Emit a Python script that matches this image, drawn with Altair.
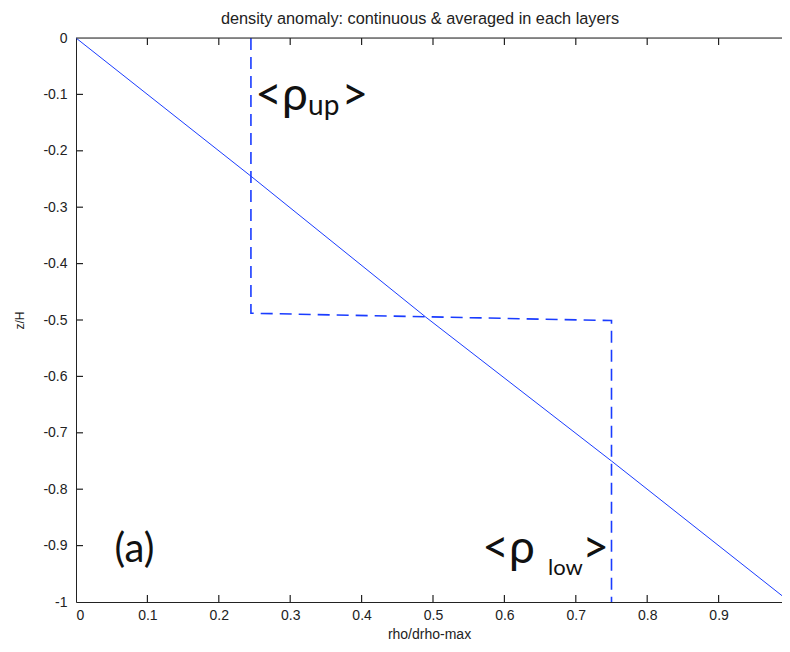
import altair as alt
import pandas as pd

# continuous profile (rho/drho-max vs z/H)
cont_rho = [0.0, 0.245, 0.49, 0.75, 1.0]
cont_z = [0.0, -0.245, -0.495, -0.75, -1.0]

# layer-averaged profile
avg_rho = [0.245, 0.245, 0.75, 0.75]
avg_z = [0.0, -0.488, -0.501, -1.0]

x_ticks = [0.0, 0.1, 0.2, 0.3, 0.4, 0.5, 0.6, 0.7, 0.8, 0.9]
y_ticks = [0.0, -0.1, -0.2, -0.3, -0.4, -0.5, -0.6, -0.7, -0.8, -0.9, -1.0]

# annotation texts
ann_main = ["<\u03c1", ">", "<\u03c1", ">"]
ann_main_x = [0.251, 0.372, 0.569, 0.709]
ann_main_y = [-0.128, -0.128, -0.931, -0.931]
ann_sub = ["up", "low"]
ann_sub_x = [0.325, 0.661]
ann_sub_y = [-0.137, -0.952]
ann_sub_size = [28, 22]
label_a = ["(a)"]
label_a_x = [0.054]
label_a_y = [-0.929]

W, H = 706, 564
X_MAX = 706 / 714
BLUE = "#1a3cff"

cont = pd.DataFrame({"rho": cont_rho, "z": cont_z})
avg = pd.DataFrame({"rho": avg_rho, "z": avg_z, "o": list(range(len(avg_rho)))})
xt = pd.DataFrame({"v": x_ticks[1:]})
yt = pd.DataFrame({"v": y_ticks[1:-1]})
main_df = pd.DataFrame({"t": ann_main, "x": ann_main_x, "y": ann_main_y})
sub_df = pd.DataFrame({"t": ann_sub, "x": ann_sub_x, "y": ann_sub_y, "s": ann_sub_size})
a_df = pd.DataFrame({"t": label_a, "x": label_a_x, "y": label_a_y})

xscale = alt.Scale(domain=[0, X_MAX], nice=False, zero=False)
yscale = alt.Scale(domain=[-1, 0], nice=False, zero=False)

xaxis = alt.Axis(values=x_ticks, title="rho/drho-max", tickSize=0, labelPadding=6,
                 labelFontSize=14, labelFont="Liberation Sans", labelColor="#222",
                 titleFont="Liberation Sans", titleFontSize=14, titleFontWeight="normal",
                 titleColor="#222", titlePadding=5, domainColor="#222", grid=False,
                 labelExpr="'' + datum.value")
yaxis = alt.Axis(values=y_ticks, title="z/H", tickSize=0, labelPadding=9,
                 labelFontSize=14, labelFont="Liberation Sans", labelColor="#222",
                 titleFont="Liberation Sans", titleFontSize=12, titleFontWeight="normal",
                 titleColor="#222", titleX=-50, titleY=H / 2, domainColor="#222", grid=False,
                 labelExpr="'' + datum.value")

line_cont = alt.Chart(cont).mark_line(color=BLUE, strokeWidth=1, clip=True).encode(
    x=alt.X("rho:Q", scale=xscale, axis=xaxis),
    y=alt.Y("z:Q", scale=yscale, axis=yaxis),
)
line_avg = alt.Chart(avg).mark_line(color=BLUE, strokeWidth=1.6, strokeDash=[12, 7], clip=True).encode(
    x=alt.X("rho:Q", scale=xscale),
    y=alt.Y("z:Q", scale=yscale),
    order="o:Q",
)

tick_bot = alt.Chart(xt).mark_rule(color="#222", strokeWidth=1.2).encode(
    x=alt.X("v:Q", scale=xscale), y=alt.value(H), y2=alt.value(H - 7))
tick_top = alt.Chart(xt).mark_rule(color="#222", strokeWidth=1.2).encode(
    x=alt.X("v:Q", scale=xscale), y=alt.value(0), y2=alt.value(7))
tick_left = alt.Chart(yt).mark_rule(color="#222", strokeWidth=1.2).encode(
    y=alt.Y("v:Q", scale=yscale), x=alt.value(0), x2=alt.value(7))
top_border = alt.Chart(xt.head(1)).mark_rule(color="#222", strokeWidth=1.2).encode(
    x=alt.value(0), x2=alt.value(W), y=alt.value(0))

txt_main = alt.Chart(main_df).mark_text(font="Lato", fontSize=46, align="left",
                                        baseline="alphabetic", color="#111").encode(
    x=alt.X("x:Q", scale=xscale), y=alt.Y("y:Q", scale=yscale), text="t:N")
txt_sub = alt.Chart(sub_df).mark_text(font="Lato", align="left",
                                      baseline="alphabetic", color="#111").encode(
    x=alt.X("x:Q", scale=xscale), y=alt.Y("y:Q", scale=yscale), text="t:N",
    size=alt.Size("s:Q", scale=None, legend=None))
txt_a = alt.Chart(a_df).mark_text(font="Lato", fontSize=40, align="left",
                                  baseline="alphabetic", color="#111").encode(
    x=alt.X("x:Q", scale=xscale), y=alt.Y("y:Q", scale=yscale), text="t:N")

chart = alt.layer(
    line_cont, line_avg, tick_bot, tick_top, tick_left, top_border, txt_main, txt_sub, txt_a
).properties(
    width=W, height=H,
    title=alt.Title("density anomaly: continuous & averaged in each layers",
                    font="Liberation Sans", fontSize=16.3, fontWeight="normal",
                    color="#222", dx=-9, offset=4),
    autosize=alt.AutoSizeParams(type="none"),
    padding={"left": 68, "top": 30, "right": 0, "bottom": 42},
).configure_view(stroke=None).configure(background="white")

chart.save("out.html", embed_options={"renderer": "svg", "actions": False})
